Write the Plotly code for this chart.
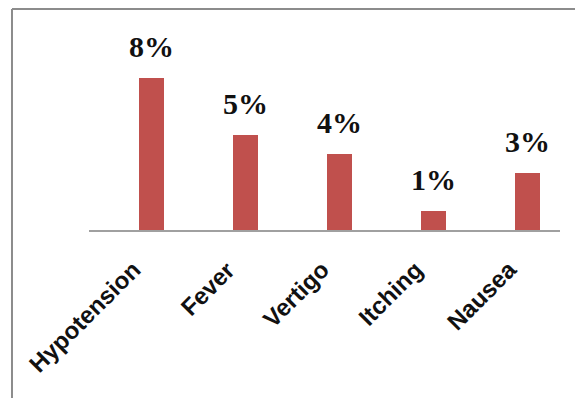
import plotly.graph_objects as go

categories = ["Hypotension", "Fever", "Vertigo", "Itching", "Nausea"]
values = [8, 5, 4, 1, 3]
labels = ["8%", "5%", "4%", "1%", "3%"]

fig = go.Figure()
fig.add_trace(go.Bar(
    x=categories, y=values, width=0.27,
    marker=dict(color="#C0504D", line=dict(width=0)),
    hoverinfo="skip",
))

for c, v, t in zip(categories, values, labels):
    fig.add_annotation(
        x=c, y=v, text="<b>" + t + "</b>", showarrow=False, xref="x", yref="y",
        yanchor="bottom", yshift=13,
        font=dict(family="Liberation Serif", size=30, color="#111111"),
    )

# category labels, rotated
for c in categories:
    fig.add_annotation(
        x=c, y=0, text="<b>" + c + "</b>", showarrow=False, xref="x", yref="paper",
        textangle=-45, xanchor="right", yanchor="top",
        xshift=-3, yshift=-23,
        font=dict(family="Liberation Sans", size=24, color="#111111"),
    )

# outer frame (left and top edges visible)
fig.add_shape(type="line", xref="paper", yref="paper",
              x0=-0.1635, x1=-0.1635, y0=1.052, y1=-0.9,
              line=dict(color="#8c8c8c", width=2))
fig.add_shape(type="line", xref="paper", yref="paper",
              x0=-0.1635, x1=1.1, y0=1.052, y1=1.052,
              line=dict(color="#8c8c8c", width=2))

fig.update_layout(
    width=575, height=398,
    margin=dict(l=89, r=15, t=20, b=168),
    paper_bgcolor="white", plot_bgcolor="white",
    showlegend=False,
    bargap=0.0,
)
fig.update_xaxes(
    range=[-0.665, 4.346],
    showline=True, linecolor="#a0a0a0", linewidth=1.5,
    ticks="", showticklabels=False,
    showgrid=False, zeroline=False,
)
fig.update_yaxes(
    range=[0, 210/19], visible=False, showgrid=False, zeroline=False,
)

fig.write_html("out.html")
